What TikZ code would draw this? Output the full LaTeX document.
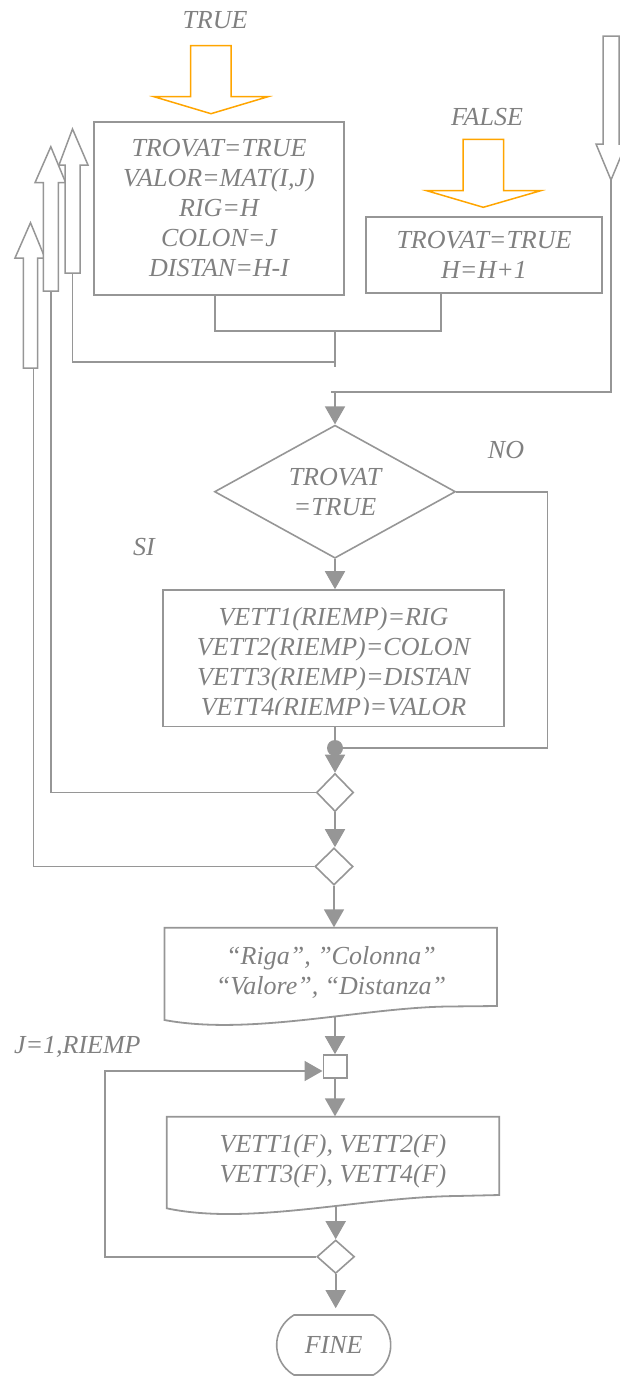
\documentclass[tikz,border=0pt]{standalone}
\usepackage{fontspec}
\setmainfont{Liberation Serif}
\usetikzlibrary{arrows.meta,positioning,shapes.geometric,shapes.misc,calc}
\definecolor{linegray}{RGB}{150,150,150}
\definecolor{textgray}{RGB}{128,128,128}
\definecolor{flagorange}{RGB}{255,165,0}

\begin{document}
\begin{tikzpicture}[
    x=0.5pt, y=-0.5pt,
    every node/.style={font=\fontsize{13}{15}\selectfont\itshape, text=textgray},
    proc/.style={rectangle, draw=linegray, line width=0.8pt, align=center, inner sep=0pt},
    decis/.style={diamond, draw=linegray, line width=0.8pt, align=center, inner sep=0pt, shape aspect=2},
    knot/.style={diamond, draw=linegray, line width=0.8pt, inner sep=0pt, fill=white},
    term/.style={rounded rectangle, rounded rectangle arc length=120, draw=linegray, line width=0.8pt, inner sep=0pt},
    ln/.style={draw=linegray, line width=0.9pt},
    arr/.style={ln, -{Triangle[length=9pt,width=10pt]}},
    hollow/.style={draw=linegray, line width=0.75pt, fill=white},
    flag/.style={draw=flagorange, line width=0.75pt, fill=white}
  ]
    \useasboundingbox (0,0) rectangle (620,1376);
    \clip (0,0) rectangle (620,1376);

    % ── block arrows on top ──
    \node (truelab) at (215,20) {TRUE};
    \draw[flag] (190.7,45.7) -- (231,45.7) -- (231,96.7) -- (268,96.7) -- (211,113.7)
      -- (154,96.7) -- (190.7,96.7) -- cycle;
    \node (falselab) at (487,117) {FALSE};
    \draw[flag] (463,139.3) -- (503.7,139.3) -- (503.7,190.7) -- (540.7,190.7) -- (483.3,207.3)
      -- (426.7,190.7) -- (463,190.7) -- cycle;

    % hollow arrows (loop returns and entry)
    \draw[hollow] (23.3,368) -- (23.3,258) -- (15,258) -- (30.5,222.7) -- (45,258)
      -- (37.7,258) -- (37.7,368) -- cycle;
    \coordinate (abot) at (33.5,368);
    \draw[hollow] (43.3,291) -- (43.3,182.7) -- (35,182.7) -- (50.8,146.7) -- (65.7,182.7)
      -- (58.3,182.7) -- (58.3,291) -- cycle;
    \coordinate (bbot) at (50.8,291);
    \draw[hollow] (65,273) -- (65,165) -- (59,165) -- (72.5,129) -- (88,165)
      -- (80,165) -- (80,273) -- cycle;
    \coordinate (cbot) at (72.5,273);
    \draw[hollow] (603,36) -- (619,36) -- (619,144) -- (626,144) -- (611,180)
      -- (596,144) -- (603,144) -- cycle;
    \coordinate (rtip) at (611,180);

    % ── boxes ──
    \node[proc, minimum width=125pt, minimum height=86.5pt] (p1) at (219,208.5)
      {TROVAT=TRUE\\VALOR=MAT(I,J)\\RIG=H\\COLON=J\\DISTAN=H-I};
    \node[proc, minimum width=118pt, minimum height=38pt] (p2) at (484,255)
      {TROVAT=TRUE\\H=H+1};

    \node[decis, minimum width=120.5pt, minimum height=66.5pt] (dec) at (335,491.7) {TROVAT\\=TRUE};
    \node (nolab) at (506,450) {NO};
    \node (silab) at (144,547) {SI};

    \node[proc, minimum width=170.5pt, minimum height=68.3pt] (p3) at (333.5,658.3) {};
    \begin{scope}
      \clip ([yshift=6.3pt]p3.south west) rectangle (p3.north east);
      \node[align=center] (p3txt) at (333.5,664.7)
        {VETT1(RIEMP)=RIG\\VETT2(RIEMP)=COLON\\VETT3(RIEMP)=DISTAN\\VETT4(RIEMP)=VALOR};
    \end{scope}

    \node[circle, fill=linegray, minimum size=8pt, inner sep=0pt] (jn) at (335,748) {};
    \node[knot, minimum width=18.5pt, minimum height=19pt] (d1) at (335,792.5) {};
    \node[knot, minimum width=19pt, minimum height=18.5pt] (d2) at (334,866.5) {};

    % output documents
    \node[align=center, minimum width=166.3pt, minimum height=44.3pt, inner sep=0pt] (o1) at (331,972)
      {“Riga”, ”Colonna”\\“Valore”, “Distanza”};
    \draw[ln] (164.4,1020) -- (164.4,927.7) -- (497,927.7) -- (497,1006) -- (447,1006.5)
      .. controls (360,1008) and (250,1036) .. (164.4,1020) -- cycle;
    \coordinate (o1b) at (335,1017);

    \node (jlab) [anchor=west] at (7,1047) {J=1,RIEMP};
    \node[proc, minimum width=11.7pt, minimum height=11.4pt] (sq) at (335,1066.4) {};
    \coordinate (lp) at (105,1071);

    \node[align=center, minimum width=166.3pt, minimum height=44.6pt, inner sep=0pt] (o2) at (333,1161.3)
      {VETT1(F), VETT2(F)\\VETT3(F), VETT4(F)};
    \draw[ln] (166.7,1208.3) -- (166.7,1116.7) -- (499.3,1116.7) -- (499.3,1195) -- (456.7,1196)
      .. controls (360,1197) and (250,1226) .. (166.7,1208.3) -- cycle;
    \coordinate (o2b) at (335.7,1206);

    \node[knot, minimum width=18.8pt, minimum height=16.7pt] (d3) at (335.7,1256.7) {};
    \node[term, minimum width=57pt, minimum height=30pt] (fine) at (333.7,1345) {FINE};

    % ── connectors: top branches ──
    \coordinate (jA) at (335,331);
    \coordinate (jB) at (335,362);
    \coordinate (jC) at (331,392);
    \coordinate (jD) at (335,392);
    \coordinate (noc) at (547.4,748);
    \draw[ln] ([xshift=-2pt]p1.south) |- (jA) -| ([xshift=-21.5pt]p2.south);
    \draw[ln] (jA) -- ++(0,36);
    \draw[ln] (jB) -| (cbot);
    \draw[ln] (rtip) |- (jC);
    \draw[arr] (jD) -- (dec.north);

    % ── connectors: main column ──
    \draw[arr] (dec.south) -- (dec.south |- p3.north);
    \draw[ln] (p3.south -| jn) -- (jn);
    \draw[ln] (dec.east) -| (noc) -- (jn);
    \draw[arr] (jn) -- (d1.north);
    \draw[arr] (d1.south) -- (d1.south |- d2.north);
    \draw[arr] (d2.south) -- (d2.south |- o1.north);
    \draw[arr] (o1b) -- (sq.north);
    \draw[arr] (sq.south) -- (sq.south |- o2.north);
    \draw[arr] (o2b) -- (d3.north);
    \draw[arr, shorten >=3pt] (d3.south) -- (d3.south |- fine.north);

    % ── loop returns ──
    \draw[ln] (d1.west) -| (bbot);
    \draw[ln] (d2.west) -| (abot);
    \draw[arr] (d3.west) -| (lp) -- (lp -| sq.west);

  \end{tikzpicture}
\end{document}
